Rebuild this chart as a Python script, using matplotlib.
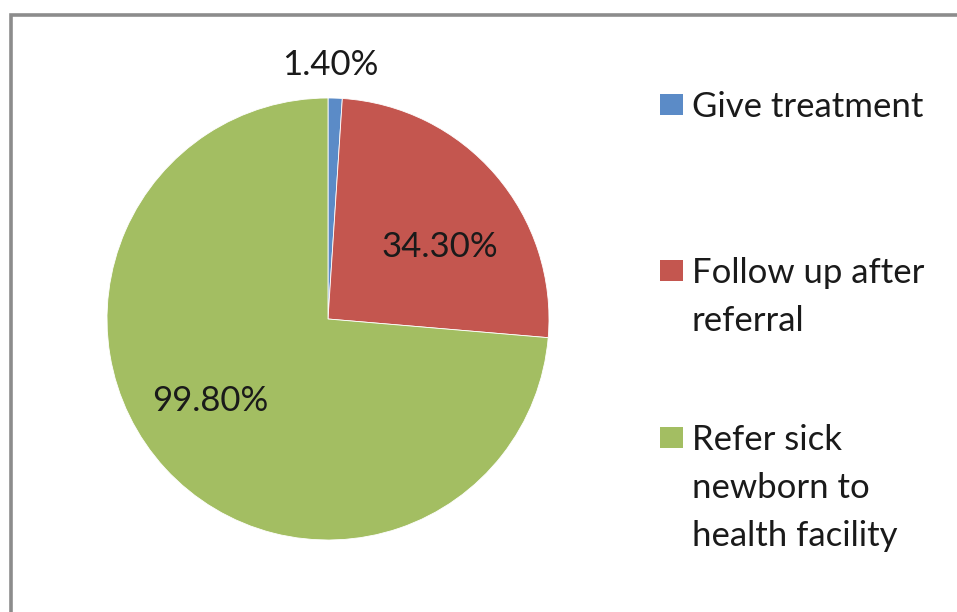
import matplotlib
matplotlib.use("Agg")
import matplotlib.pyplot as plt
from matplotlib.patches import Rectangle

categories = ["Give treatment", "Follow up after\nreferral", "Refer sick\nnewborn to\nhealth facility"]
values = [1.40, 34.30, 99.80]
colors = ["#5b8bc7", "#c4564f", "#a3be62"]

plt.rcParams['font.family'] = ['Lato', 'DejaVu Sans']

W, H = 957, 612
fig = plt.figure(figsize=(W / 100, H / 100), dpi=100)

# outer frame
fig.add_artist(Rectangle((11 / W, -0.05), 1.2, 1 - 15 / H + 0.05, transform=fig.transFigure,
                         fill=False, edgecolor="#8c8c8c", linewidth=2.6))

cx, cy, r = 328, 319, 221
ax = fig.add_axes([(cx - r) / W, (H - cy - r) / H, 2 * r / W, 2 * r / H])
wedges, _ = ax.pie(values, colors=colors, startangle=90, counterclock=False, radius=1,
                   wedgeprops=dict(linewidth=0.6, edgecolor="white"))
ax.set_xlim(-1, 1)
ax.set_ylim(-1, 1)
ax.set_aspect("equal")
ax.axis("off")

labels = [f"{v:.2f}%" for v in values]
label_pos = [(0.009, 1.104), (0.507, 0.281), (-0.535, -0.416)]
for lab, (x, y) in zip(labels, label_pos):
    ax.text(x, y, lab, ha="center", va="baseline", fontsize=25, color="#1a1a1a", clip_on=False)

# legend
leg_rows = [117, 283, 450]   # baseline of first line (px from top)
line_h = 48
for cat, col, y in zip(categories, colors, leg_rows):
    fig.add_artist(Rectangle((660 / W, 1 - (y - 2) / H), 23 / W, 21 / H, transform=fig.transFigure,
                             facecolor=col, edgecolor="none"))
    for i, line in enumerate(cat.split("\n")):
        fig.text(692 / W, 1 - (y + i * line_h) / H, line, ha="left", va="baseline",
                 fontsize=25, color="#1a1a1a")

fig.savefig("out.png", dpi=100)
